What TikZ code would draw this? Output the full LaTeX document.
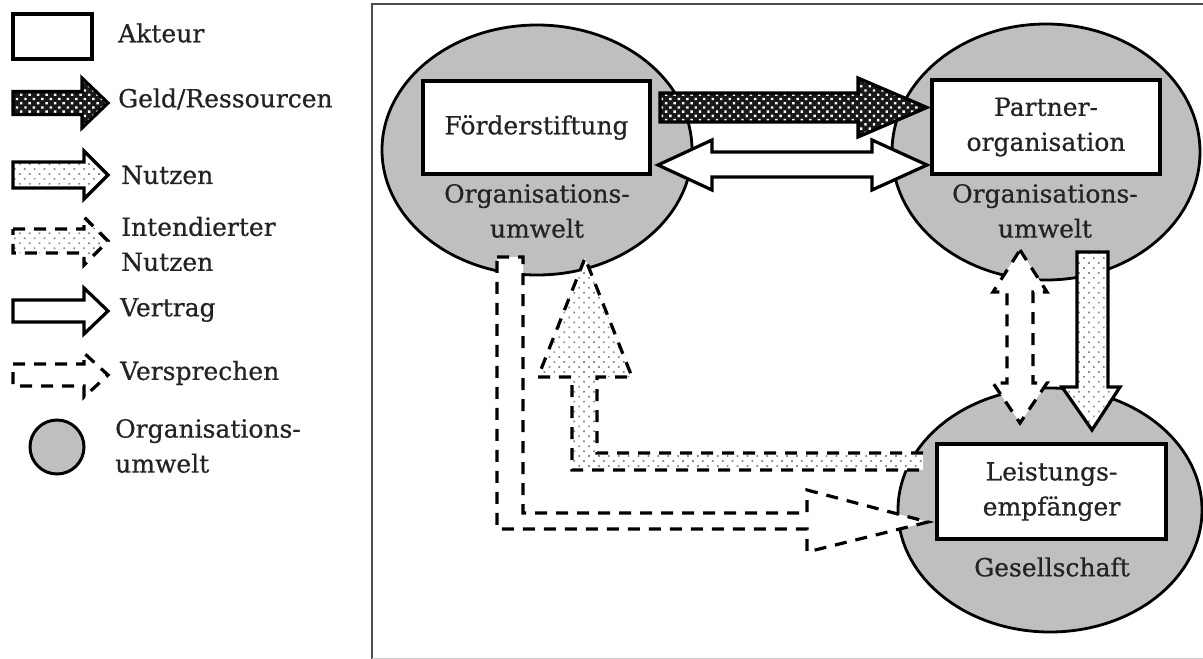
\documentclass[tikz,border=0pt]{standalone}
\usepackage{fontspec}
\setmainfont{DejaVu Serif}[BoldFont=DejaVu Serif, BoldFeatures={FakeBold=0.6}]
\usetikzlibrary{shapes.geometric,patterns.meta,shadows}
\definecolor{envgray}{RGB}{191,191,191}
\definecolor{txt}{RGB}{35,35,35}
\tikzset{
  lbl/.style={inner sep=0pt, text=txt, align=center, font=\fontsize{25}{35}\selectfont\bfseries},
  legtxt/.style={lbl, anchor=west, align=left},
  actor/.style={lbl, draw=black, line width=4pt, fill=white,
    drop shadow={shadow xshift=2pt, shadow yshift=-2pt, opacity=0.25}},
  env/.style={ellipse, draw=black, line width=2.8pt, fill=envgray, inner sep=0pt},
  money/.style={draw=black, line width=3.2pt, preaction={fill=black!90},
    pattern={Dots[distance=6pt,radius=1.7pt,angle=45]}, pattern color=white},
  benefit/.style={draw=black, line width=3.2pt, preaction={fill=white},
    pattern={Dots[distance=7pt,radius=1.2pt,angle=45]}, pattern color=black!45},
  intended/.style={benefit, dash pattern=on 12pt off 9pt},
  contract/.style={draw=black, line width=3.2pt, fill=white},
  promise/.style={contract, dash pattern=on 12pt off 9pt},
}
\begin{document}
\begin{tikzpicture}[x=1pt,y=-1pt]
\useasboundingbox (0,0) rectangle (1203,659);
% frame
\draw[black!70, line width=2.8pt] (372,662) -- (372,4) -- (1210,4);
\draw[black!20, line width=1pt] (372,658) -- (1210,658);

% ---------- legend ----------
\node[draw=black, line width=3.5pt, fill=white, minimum width=79pt, minimum height=45pt, inner sep=0pt] (legActor) at (52.5,36.5) {};
\node[legtxt] (legActorT) at (118,33) {Akteur};

\draw[money] (13,91.5)--(82,91.5)--(82,78)--(108,103)--(82,128)--(82,114.5)--(13,114.5)--cycle;
\node[legtxt] (legMoneyT) at (118,99) {Geld/Ressourcen};

\draw[benefit] (13,162)--(84,162)--(84,151)--(108,175)--(84,199)--(84,188)--(13,188)--cycle;
\node[legtxt] (legBenT) at (121,175) {Nutzen};

\draw[intended] (13,229)--(84,229)--(84,217)--(108,241)--(84,265)--(84,253)--(13,253)--cycle;
\node[legtxt] (legIntT) at (121,244) {Intendierter\\Nutzen};

\draw[contract] (13,300)--(84,300)--(84,288)--(108,311)--(84,334)--(84,322)--(13,322)--cycle;
\node[legtxt] (legConT) at (120,310) {Vertrag};

\draw[promise] (13,364)--(84,364)--(84,353)--(108,375)--(84,397)--(84,386)--(13,386)--cycle;
\node[legtxt] (legProT) at (120,373) {Versprechen};

\node[circle, draw=black, line width=3pt, fill=envgray, minimum size=54pt, inner sep=0pt] (legEnv) at (57,447) {};
\node[legtxt] (legEnvT) at (115,446) {Organisations-\\umwelt};

% ---------- environments ----------
\node[env, minimum width=310pt, minimum height=250pt] (envF) at (537,150) {};
\node[env, minimum width=308pt, minimum height=256pt] (envP) at (1046,152) {};
\node[env, minimum width=304pt, minimum height=244pt] (envG) at (1050,510) {};

\node[lbl] (envFT) at (537,211) {Organisations-\\umwelt};
\node[lbl] (envPT) at (1045,211) {Organisations-\\umwelt};
\node[lbl] (envGT) at (1052,567) {Gesellschaft};

% ---------- arrows ----------
% Geld/Ressourcen
\draw[money] (660,93)--(858,93)--(858,78)--(927,107.5)--(858,137)--(858,122)--(660,122)--cycle;
% Vertrag (double)
\draw[contract] (658,165)--(712,140)--(712,152)--(872,152)--(872,140)--(927,165)--(872,190)--(872,177)--(712,177)--(712,190)--cycle;
% Nutzen down
\draw[benefit] (1077,252)--(1108,252)--(1108,387)--(1120,387)--(1092,430)--(1062,387)--(1077,387)--cycle;
% Versprechen vertical double
\draw[promise] (1020,250)--(1047,292)--(1033,292)--(1033,383)--(1047,383)--(1020,423)--(993,383)--(1007,383)--(1007,292)--(993,292)--cycle;
% Intendierter Nutzen (back to Foerderstiftung)
\fill[benefit, draw=none] (923,453)--(597,453)--(597,377)--(632,377)--(585,258)--(538,377)--(572,377)--(572,470)--(923,470)--cycle;
\draw[black, line width=3.2pt, dash pattern=on 12pt off 9pt] (923,453)--(597,453)--(597,377)--(632,377)--(585,258)--(538,377)--(572,377)--(572,470)--(923,470);
% Versprechen (Foerderstiftung -> Leistungsempfaenger)
\draw[promise] (497,257)--(523,257)--(523,513)--(807,513)--(807,490)--(928,522)--(807,552)--(807,529)--(497,529)--cycle;

% ---------- actors ----------
\node[actor, minimum width=227pt, minimum height=93pt] (foerder) at (536.5,127.5) {Förderstiftung};
\node[actor, minimum width=228pt, minimum height=94pt] (partner) at (1046,127) {Partner-\\organisation};
\node[actor, minimum width=229pt, minimum height=95pt] (leist) at (1051.5,491.5) {Leistungs-\\empfänger};
\end{tikzpicture}
\end{document}
